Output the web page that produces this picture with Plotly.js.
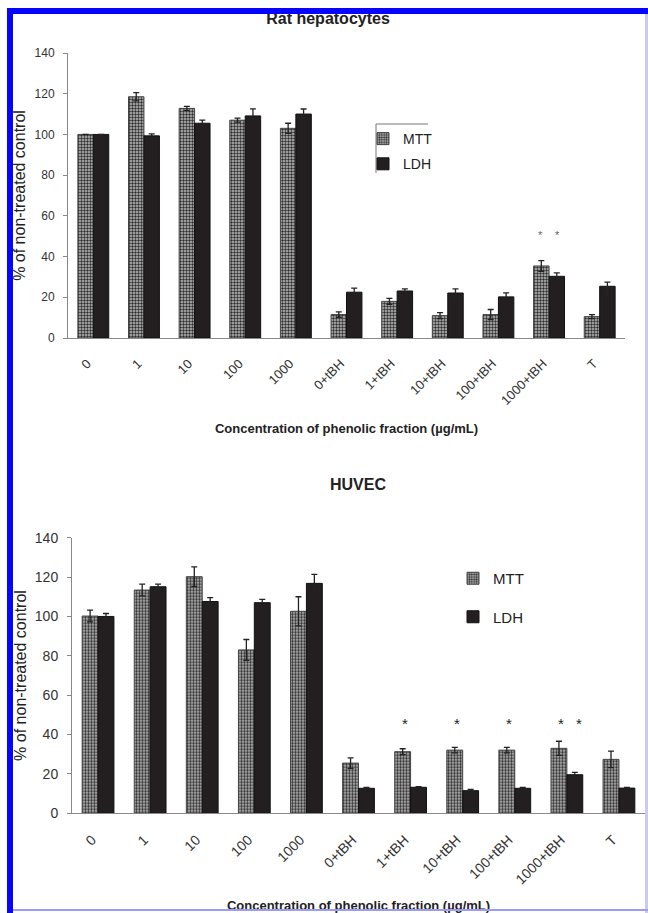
<!DOCTYPE html>
<html><head><meta charset="utf-8">
<script src="https://cdn.plot.ly/plotly-3.0.1.min.js"></script>
<style>
html,body{margin:0;padding:0;background:#fff;}
#wrap{position:relative;width:648px;height:913px;overflow:hidden;}
#chart{width:648px;height:913px;}
.fr{position:absolute;pointer-events:none;}
</style></head><body>
<div id="wrap"><div id="chart"></div>
<div class="fr" style="left:7px;top:8px;width:641px;height:6px;background:#0505ff"></div>
<div class="fr" style="left:7px;top:8px;width:6px;height:905px;background:#0505ff"></div>
<div class="fr" style="left:645px;top:14px;width:3px;height:899px;background:#cacaf6"></div>
<div class="fr" style="left:13px;top:909px;width:635px;height:2px;background:#9c9cf4"></div>
</div>
<script>
const categories = ['0','1','10','100','1000','0+tBH','1+tBH','10+tBH','100+tBH','1000+tBH','T'];

const ratMTT     = [100, 118.5, 112.8, 107, 103, 11.5, 18, 11, 11.5, 35.4, 10.5];
const ratMTTerr  = [0, 2, 1, 1, 2.5, 1.3, 1.5, 1.5, 2.5, 2.6, 1];
const ratLDH     = [100, 99.3, 105.5, 109.1, 110, 22.5, 23.1, 22.1, 20.2, 30.3, 25.4];
const ratLDHerr  = [0, 1, 1.5, 3.5, 2.5, 2, 1, 2, 2, 1.7, 2];

const huvecMTT    = [100.2, 113.4, 120.2, 83, 102.6, 25.5, 31.3, 32.1, 32.1, 33, 27.4];
const huvecMTTerr = [3, 3, 5, 5.3, 7.4, 2.7, 1.5, 1.4, 1.4, 3.6, 4.2];
const huvecLDH    = [100, 115.1, 107.6, 107, 116.8, 12.7, 13.2, 11.5, 12.7, 19.6, 12.8];
const huvecLDHerr = [1.5, 1.3, 2, 1.7, 4.6, 0.4, 0.4, 0.7, 0.4, 1.2, 0.4];

const ratSigMTT = ['1000+tBH'];
const ratSigLDH = ['1000+tBH'];
const ratSigY = 50.5;
const huvecSigMTT = ['1+tBH','10+tBH','100+tBH','1000+tBH'];
const huvecSigLDH = ['1000+tBH'];
const huvecSigY = 45.7;

const FONT = 'Liberation Sans, Arial, Helvetica, sans-serif';
const mttMarker = {color:'#a8a8a8', pattern:{shape:'.', fgcolor:'#2e2e2e', bgcolor:'#bdbdbd', size:3, solidity:0.5}, line:{color:'#444', width:1}};
const ldhMarker = {color:'#231f20', line:{color:'#111', width:1}};
const errStyle = {type:'data', visible:true, color:'#222', thickness:1.3, width:3};

function bars(xa, ya, mtt, mttErr, ldh, ldhErr, legend){
  return [
    {type:'bar', name:'MTT', x:categories, y:mtt, xaxis:xa, yaxis:ya, marker:mttMarker,
     error_y:Object.assign({array:mttErr}, errStyle), legend:legend, legendgroup:legend+'a', hoverinfo:'skip'},
    {type:'bar', name:'LDH', x:categories, y:ldh, xaxis:xa, yaxis:ya, marker:ldhMarker,
     error_y:Object.assign({array:ldhErr}, errStyle), legend:legend, legendgroup:legend+'b', hoverinfo:'skip'}
  ];
}

const data = [].concat(
  bars('x','y', ratMTT, ratMTTerr, ratLDH, ratLDHerr, 'legend'),
  bars('x2','y2', huvecMTT, huvecMTTerr, huvecLDH, huvecLDHerr, 'legend2')
);

function stars(list, y, xref, yref, shift, size, color){
  return list.map(c => ({x:c, y:y, xref:xref, yref:yref, text:'*', showarrow:false, xshift:shift,
    yanchor:'middle', font:{family:FONT, size:size, color:color}}));
}

const annotations = [].concat(
  stars(ratSigMTT, ratSigY, 'x', 'y', -9, 11, '#666'),
  stars(ratSigLDH, ratSigY, 'x', 'y', 8, 11, '#666'),
  stars(huvecSigMTT, huvecSigY, 'x2', 'y2', -6, 15, '#222'),
  stars(huvecSigLDH, huvecSigY, 'x2', 'y2', 12, 15, '#222'),
  [{text:'HUVEC', xref:'paper', yref:'paper', x:358/648, y:1-485/913, xanchor:'center', yanchor:'middle',
    showarrow:false, font:{family:FONT, size:16, color:'#222', weight:'bold'}}]
);

const xCommon = {type:'category', showline:true, linecolor:'#888', linewidth:1, ticks:'', tickangle:-45,
  ticklabelstandoff:12, ticklabelshift:-6,
  showgrid:false, zeroline:false, fixedrange:true, automargin:false};
const yCommon = {range:[0,140], dtick:20, showline:true, linecolor:'#888', linewidth:1, ticks:'outside', ticklen:4,
  tickcolor:'#888', showgrid:false, zeroline:false, fixedrange:true, automargin:false, ticklabelstandoff:6};
const xTitle = 'Concentration of phenolic fraction (µg/mL)';
const yTitle = '% of non-treated control';

const layout = {
  width:648, height:913, margin:{l:0,r:0,t:0,b:0}, paper_bgcolor:'#fff', plot_bgcolor:'rgba(0,0,0,0)',
  font:{family:FONT, color:'#222'},
  barmode:'group', bargap:0.39, bargroupgap:0, showlegend:true,
  title:{text:'Rat hepatocytes', x:328/648, y:1-18/913, xref:'paper', yref:'paper', xanchor:'center', yanchor:'middle',
    font:{family:FONT, size:16, color:'#222', weight:'bold'}},
  xaxis:Object.assign({}, xCommon, {domain:[68/648, 625/648], anchor:'y', tickfont:{family:FONT, size:13, color:'#333'},
    title:{text:xTitle, standoff:16, font:{family:FONT, size:13, color:'#222', weight:'bold'}}}),
  yaxis:Object.assign({}, yCommon, {domain:[1-338/913, 1-53/913], anchor:'x', tickfont:{family:FONT, size:12, color:'#333'},
    title:{text:yTitle, standoff:4, font:{family:FONT, size:16, color:'#222'}}}),
  xaxis2:Object.assign({}, xCommon, {domain:[72/648, 645/648], anchor:'y2', tickfont:{family:FONT, size:14, color:'#333'},
    title:{text:xTitle, standoff:17, font:{family:FONT, size:13, color:'#222', weight:'bold'}}}),
  yaxis2:Object.assign({}, yCommon, {domain:[1-813.3/913, 1-537.7/913], anchor:'x2', tickfont:{family:FONT, size:14, color:'#333'},
    title:{text:yTitle, standoff:4, font:{family:FONT, size:16, color:'#222'}}}),
  legend:{x:363/648, y:1-123/913, xanchor:'left', yanchor:'top', bgcolor:'rgba(0,0,0,0)', tracegroupgap:4,
    font:{family:FONT, size:14, color:'#222'}},
  legend2:{x:453/648, y:1-562/913, xanchor:'left', yanchor:'top', bgcolor:'rgba(0,0,0,0)', tracegroupgap:16,
    font:{family:FONT, size:15, color:'#222'}},
  shapes:[
    {type:'line', xref:'paper', yref:'paper', x0:376/648, x1:376/648, y0:1-124/913, y1:1-173/913, line:{color:'#777', width:1}},
    {type:'line', xref:'paper', yref:'paper', x0:376/648, x1:428/648, y0:1-124/913, y1:1-124/913, line:{color:'#777', width:1}}
  ],
  annotations:annotations
};

Plotly.newPlot('chart', data, layout, {staticPlot:true, displayModeBar:false});
</script>
</body></html>
